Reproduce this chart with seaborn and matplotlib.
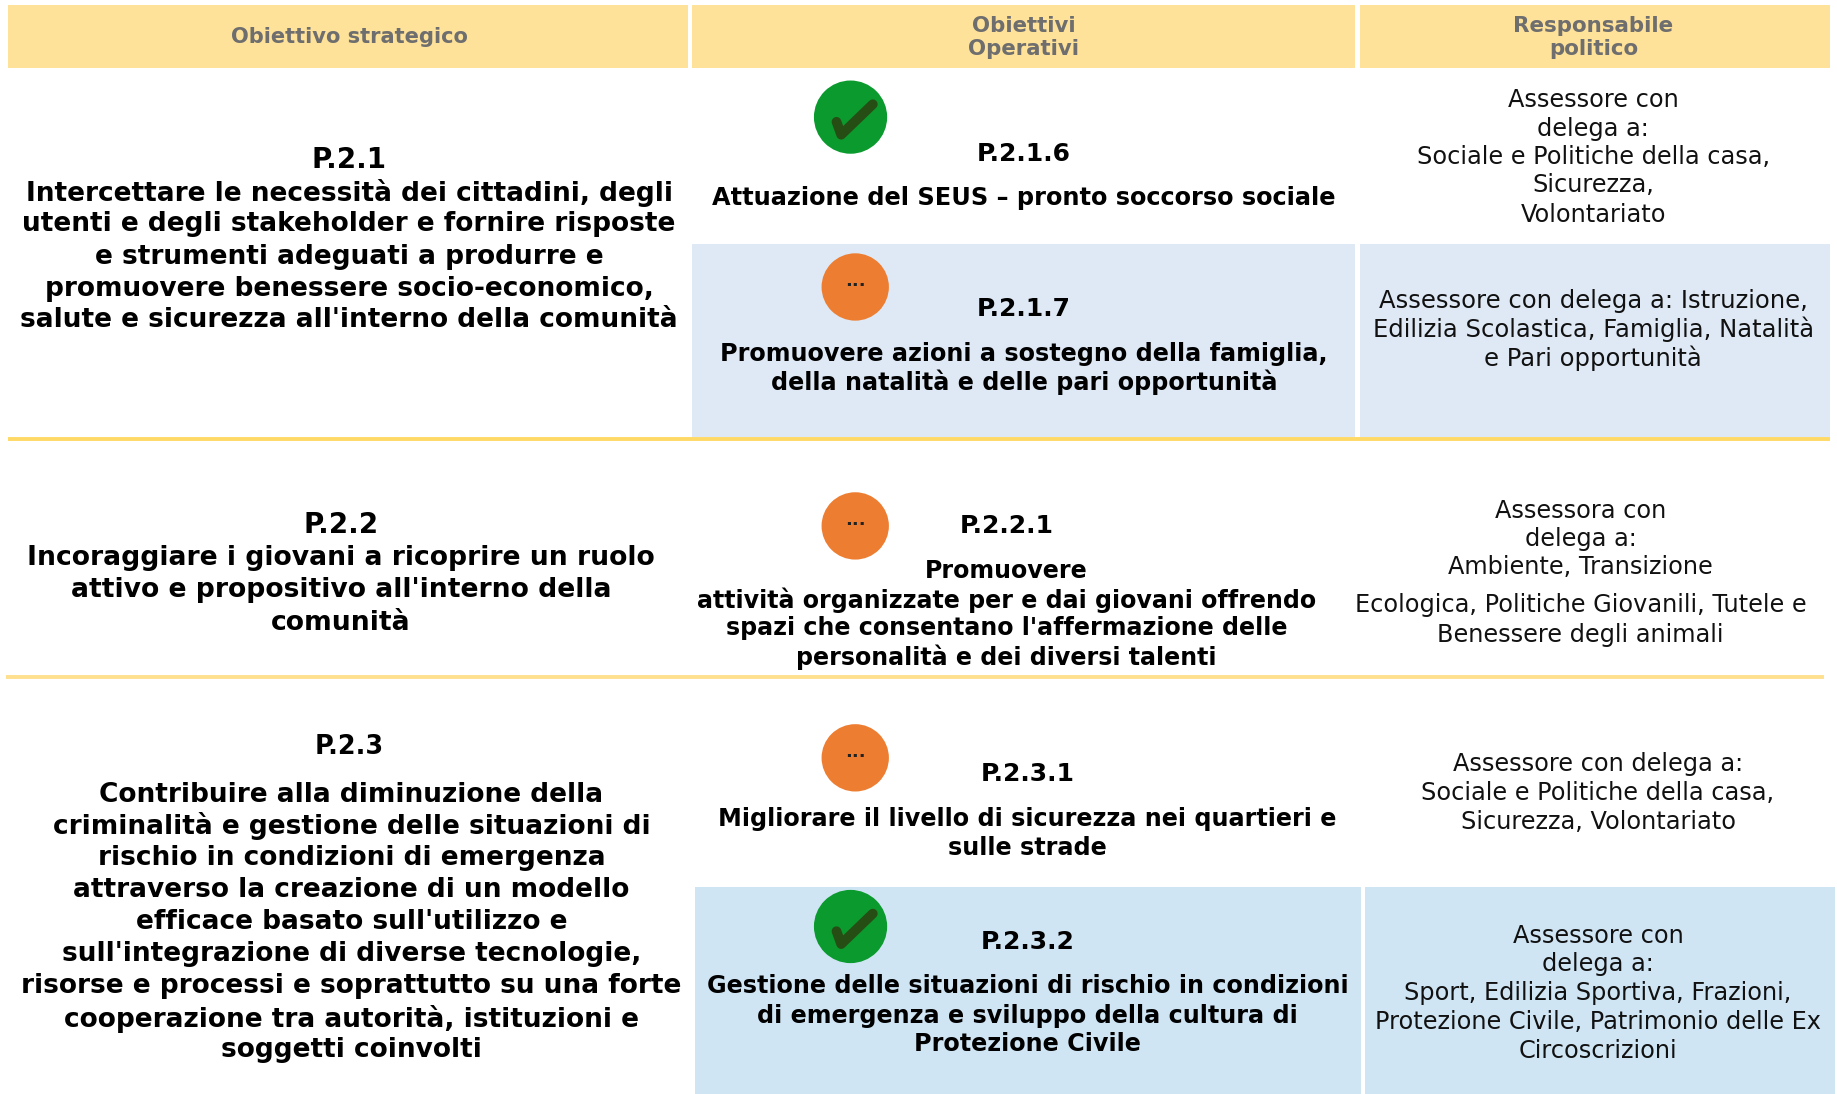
import matplotlib
matplotlib.use('Agg')
import matplotlib.pyplot as plt
from matplotlib.patches import Rectangle
import pandas as pd
import seaborn as sns

# testi del quadro
headers = ["Obiettivo strategico", "Obiettivi\nOperativi", "Responsabile\npolitico"]

strategic_codes = ["P.2.1", "P.2.2", "P.2.3"]
strategic_texts = [
    ["Intercettare le necessità dei cittadini, degli",
     "utenti e degli stakeholder e fornire risposte",
     "e strumenti adeguati a produrre e",
     "promuovere benessere socio-economico,",
     "salute e sicurezza all'interno della comunità"],
    ["Incoraggiare i giovani a ricoprire un ruolo",
     "attivo e propositivo all'interno della",
     "comunità"],
    ["Contribuire alla diminuzione della",
     "criminalità e gestione delle situazioni di",
     "rischio in condizioni di emergenza",
     "attraverso la creazione di un modello",
     "efficace basato sull'utilizzo e",
     "sull'integrazione di diverse tecnologie,",
     "risorse e processi e soprattutto su una forte",
     "cooperazione tra autorità, istituzioni e",
     "soggetti coinvolti"],
]

operative_codes = ["P.2.1.6", "P.2.1.7", "P.2.2.1", "P.2.3.1", "P.2.3.2"]
operative_texts = [
    ["Attuazione del SEUS – pronto soccorso sociale"],
    ["Promuovere azioni a sostegno della famiglia,",
     "della natalità e delle pari opportunità"],
    ["Promuovere",
     "attività organizzate per e dai giovani offrendo",
     "spazi che consentano l'affermazione delle",
     "personalità e dei diversi talenti"],
    ["Migliorare il livello di sicurezza nei quartieri e",
     "sulle strade"],
    ["Gestione delle situazioni di rischio in condizioni",
     "di emergenza e sviluppo della cultura di",
     "Protezione Civile"],
]

responsible_texts = [
    ["Assessore con", "delega a:", "Sociale e Politiche della casa,", "Sicurezza,", "Volontariato"],
    ["Assessore con delega a: Istruzione,", "Edilizia Scolastica, Famiglia, Natalità", "e Pari opportunità"],
    ["Assessora con", "delega a:", "Ambiente, Transizione",
     "Ecologica, Politiche Giovanili, Tutele e", "Benessere degli animali"],
    ["Assessore con delega a:", "Sociale e Politiche della casa,", "Sicurezza, Volontariato"],
    ["Assessore con", "delega a:", "Sport, Edilizia Sportiva, Frazioni,",
     "Protezione Civile, Patrimonio delle Ex", "Circoscrizioni"],
]

status = ["done", "progress", "progress", "progress", "done"]

# posizioni (coordinate dell'immagine)
strategic_x = [298, 291, 300]
strategic_code_y = [134, 446, 635]
strategic_y = [[162, 189, 217, 244, 271],
               [474, 501, 529],
               [676, 703, 730, 757, 785, 812, 839, 867, 894]]
operative_x = [874, 874, 859, 877, 877]
operative_code_y = [129, 262, 447, 659, 802]
operative_y = [[167], [300, 324], [485, 510, 534, 559], [697, 722], [840, 865, 889]]
responsible_x = [1360, 1360, 1349, 1364, 1364]
responsible_y = [[83, 108, 132, 156, 181],
                 [255, 279, 304],
                 [434, 458, 482, 514, 540],
                 [650, 675, 700],
                 [797, 821, 846, 870, 895]]
status_x = [726, 730, 730, 730, 726]
status_y = [100, 245, 449, 647, 791]

# corpi del testo per blocco
strategic_size = [19, 19.2, 19]
operative_size = [17.3, 17.2, 17.1, 17.2, 17.2]
responsible_size = [17.3, 17.5, 17.3, 17.3, 17.3]

HEADER_COL = '#FFE299'
LINE_COL = '#FFD966'

sns.set_theme(style='white')
plt.rcParams['font.family'] = ['DejaVu Sans']

fig, ax = plt.subplots(figsize=(18.37, 10.94), dpi=100)
fig.subplots_adjust(0, 0, 1, 1)

# intestazione
for x0, x1 in [(7, 587), (591, 1157), (1161, 1562)]:
    ax.add_patch(Rectangle((x0, 4), x1 - x0, 54, color=HEADER_COL, lw=0))
for x, head, size in zip([298, 874, 1360], headers, [15.1, 15.3, 15.4]):
    ax.text(x, 32, head, ha='center', va='center', fontsize=size, fontweight='bold',
            color='#6E6E6E', linespacing=1.2)

# celle azzurre
for x0, x1 in [(591, 1157), (1161, 1562)]:
    ax.add_patch(Rectangle((x0, 208), x1 - x0, 165, color='#DEE9F5', lw=0))
for x0, x1 in [(593, 1162), (1165, 1566)]:
    ax.add_patch(Rectangle((x0, 757), x1 - x0, 177, color='#CFE5F4', lw=0))

# linee gialle
ax.plot([7, 1562], [375, 375], color=LINE_COL, lw=2.8, solid_capstyle='butt')
ax.plot([5, 1557], [578, 578], color='#FFE08F', lw=2.8, solid_capstyle='butt')

# prima colonna
for i, code in enumerate(strategic_codes):
    size = 18.4 if i == 2 else 20
    ax.text(strategic_x[i] - (2 if i == 2 else 0), strategic_code_y[i], code, ha='center',
            va='center_baseline', fontsize=size, fontweight='bold', color='black')
    for line, y in zip(strategic_texts[i], strategic_y[i]):
        ax.text(strategic_x[i], y, line, ha='center', va='center_baseline',
                fontsize=strategic_size[i], fontweight='bold', color='black')

# seconda colonna
for i, code in enumerate(operative_codes):
    ax.text(operative_x[i], operative_code_y[i], code, ha='center', va='center_baseline',
            fontsize=18, fontweight='bold', color='black')
    for line, y in zip(operative_texts[i], operative_y[i]):
        ax.text(operative_x[i], y, line, ha='center', va='center_baseline',
                fontsize=operative_size[i], fontweight='bold', color='black')

# terza colonna
for i, lines in enumerate(responsible_texts):
    for line, y in zip(lines, responsible_y[i]):
        ax.text(responsible_x[i], y, line, ha='center', va='center_baseline',
                fontsize=responsible_size[i], color='#111111')

# indicatori di stato
df_status = pd.DataFrame({'x': status_x, 'y': status_y, 'status': status})
df_status['size'] = df_status['status'].map({'done': 2780, 'progress': 2350})
for st, col in [('done', '#0B9A2E'), ('progress', '#ED7D31')]:
    part = df_status[df_status['status'] == st]
    sns.scatterplot(data=part, x='x', y='y', s=part['size'].iloc[0], color=col,
                    edgecolor='none', legend=False, ax=ax)
for x, y, st in zip(status_x, status_y, status):
    if st == 'done':
        # spunta disegnata a mano, il glifo del font è troppo stretto
        ax.plot([x - 12, x - 8, x + 19], [y + 4, y + 15, y - 11], color='#264D14', lw=7,
                solid_joinstyle='round', solid_capstyle='round')
    else:
        ax.text(x, y - 5, '...', ha='center', va='center', fontsize=13, fontweight='bold', color='#222222')

ax.set_xlim(0, 1568)
ax.set_ylim(934, 0)
ax.axis('off')

fig.savefig('out.png', dpi=100)
